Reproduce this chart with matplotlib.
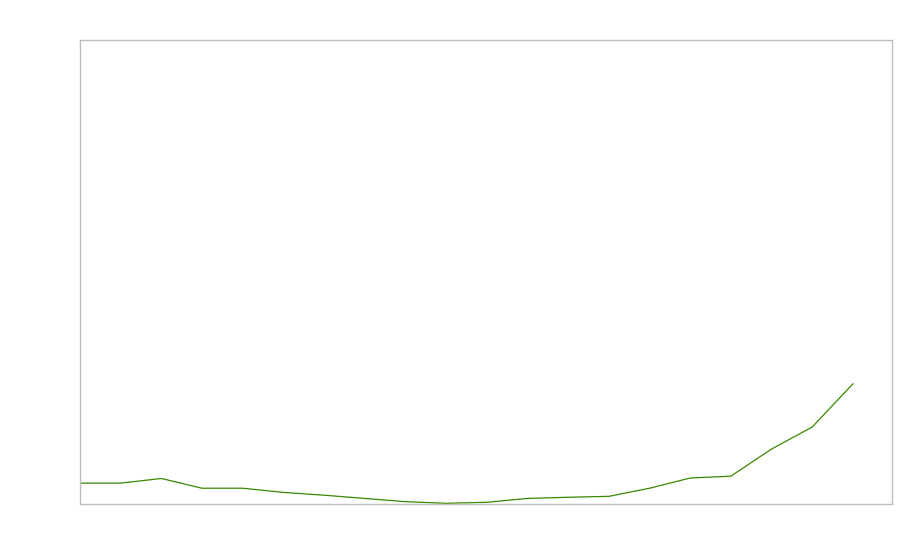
import numpy as np
from matplotlib import pyplot as plt

# values (no labels shown on the chart)
steps = list(range(20))
values = [4.5, 4.5, 5.5, 3.4, 3.4, 2.5, 1.9, 1.2, 0.5, 0.15,
          0.37, 1.2, 1.45, 1.65, 3.4, 5.6, 6.0, 11.85, 16.6, 25.9]

fig = plt.figure(figsize=(9, 5.6), dpi=100)
ax = fig.add_axes([80 / 900, 56 / 560, 812 / 900, 464 / 560])

ax.plot(steps, values, color="#3a8700", linewidth=0.9)

ax.set_xlim(0, 19.96)
ax.set_ylim(0, 100)
ax.set_xticks([])
ax.set_yticks([])
for sp in ax.spines.values():
    sp.set_color("#bdbdbd")
    sp.set_linewidth(1.0)

fig.savefig("out.png", dpi=100, facecolor="white")
